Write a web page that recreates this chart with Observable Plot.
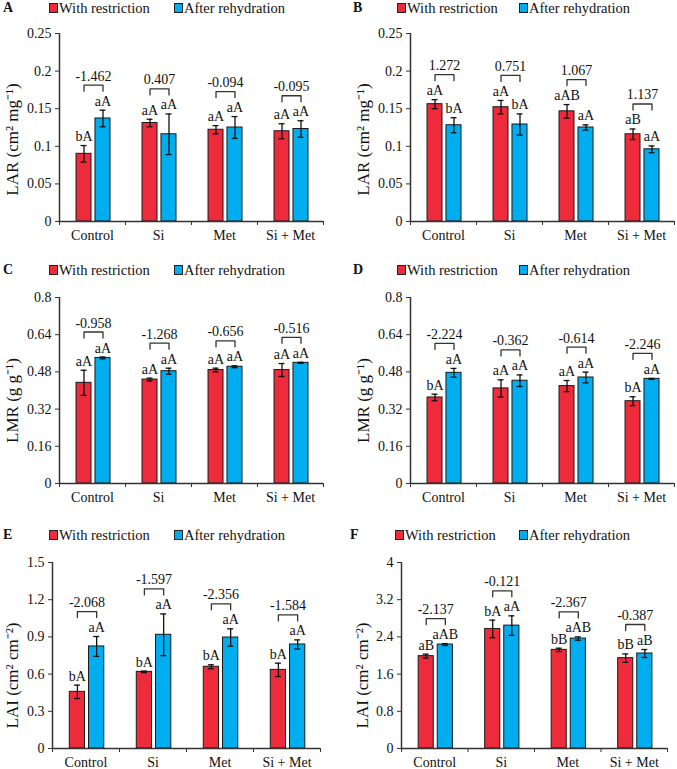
<!DOCTYPE html>
<html>
<head>
<meta charset="utf-8">
<script src="https://cdn.jsdelivr.net/npm/d3@7"></script>
<script src="https://cdn.jsdelivr.net/npm/@observablehq/plot@0.6"></script>
<style>
  html, body { margin: 0; padding: 0; background: #fff; overflow: hidden; }
  #fig { position: relative; width: 677px; height: 769px; font-family: "Liberation Serif", "Times New Roman", serif; color: #111; }
  .chart { position: absolute; }
  .tag { position: absolute; font-weight: bold; font-size: 14px; line-height: 16px; }
  .key { position: absolute; display: flex; align-items: center; font-size: 14.5px; line-height: 16px; white-space: nowrap; }
  .swatch { width: 7px; height: 8px; border: 1px solid #222; margin-right: 1px; }
</style>
</head>
<body>
<div id="fig"></div>
<script>
// Treatments and the two sampling moments
const categories = ["Control", "Si", "Met", "Si + Met"];
const seriesNames = ["With restriction", "After rehydration"];
const seriesColors = ["#EE2B3B", "#00AEEF"];

// A: LAR (cm² mg⁻¹)
const aRestr = [0.090, 0.131, 0.122, 0.120];
const aRestrErr = [0.011, 0.005, 0.0055, 0.010];
const aRehyd = [0.137, 0.116, 0.125, 0.123];
const aRehydErr = [0.011, 0.027, 0.0145, 0.011];
const aRestrLetters = ["bA", "aA", "aA", "aA"];
const aRehydLetters = ["aA", "aA", "aA", "aA"];
const aIndex = ["-1.462", "0.407", "-0.094", "-0.095"];

// B: LAR (cm² mg⁻¹)
const bRestr = [0.156, 0.152, 0.1465, 0.116];
const bRestrErr = [0.006, 0.009, 0.009, 0.007];
const bRehyd = [0.128, 0.129, 0.125, 0.096];
const bRehydErr = [0.010, 0.014, 0.0035, 0.0045];
const bRestrLetters = ["aA", "aA", "aAB", "aB"];
const bRehydLetters = ["bA", "bA", "aA", "aA"];
const bIndex = ["1.272", "0.751", "1.067", "1.137"];

// C: LMR (g g⁻¹)
const cRestr = [0.433, 0.447, 0.488, 0.488];
const cRestrErr = [0.054, 0.006, 0.008, 0.028];
const cRehyd = [0.540, 0.483, 0.502, 0.519];
const cRehydErr = [0.004, 0.013, 0.004, 0.002];
const cRestrLetters = ["aA", "aA", "aA", "aA"];
const cRehydLetters = ["aA", "aA", "aA", "aA"];
const cIndex = ["-0.958", "-1.268", "-0.656", "-0.516"];

// D: LMR (g g⁻¹)
const dRestr = [0.370, 0.409, 0.419, 0.354];
const dRestrErr = [0.014, 0.037, 0.024, 0.019];
const dRehyd = [0.476, 0.442, 0.456, 0.450];
const dRehydErr = [0.019, 0.025, 0.023, 0.002];
const dRestrLetters = ["bA", "aA", "aA", "bA"];
const dRehydLetters = ["aA", "aA", "aA", "aA"];
const dIndex = ["-2.224", "-0.362", "-0.614", "-2.246"];

// E: LAI (cm² cm⁻²)
const eRestr = [0.457, 0.618, 0.659, 0.634];
const eRestrErr = [0.054, 0.006, 0.016, 0.054];
const eRehyd = [0.823, 0.917, 0.895, 0.839];
const eRehydErr = [0.080, 0.168, 0.070, 0.037];
const eRestrLetters = ["bA", "bA", "bA", "bA"];
const eRehydLetters = ["aA", "aA", "aA", "aA"];
const eIndex = ["-2.068", "-1.597", "-2.356", "-1.584"];

// F: LAI (cm² cm⁻²)
const fRestr = [1.986, 2.571, 2.121, 1.943];
const fRestrErr = [0.043, 0.19, 0.036, 0.09];
const fRehyd = [2.236, 2.643, 2.364, 2.043];
const fRehydErr = [0.020, 0.21, 0.036, 0.086];
const fRestrLetters = ["aB", "bA", "bB", "bB"];
const fRehydLetters = ["aAB", "aA", "aAB", "aB"];
const fIndex = ["-2.137", "-0.121", "-2.367", "-0.387"];

// Y-axis ticks per measure
const larTicks = [0, 0.05, 0.1, 0.15, 0.2, 0.25];
const lmrTicks = [0, 0.16, 0.32, 0.48, 0.64, 0.8];
const laiTicksE = [0, 0.3, 0.6, 0.9, 1.2, 1.5];
const laiTicksF = [0, 0.8, 1.6, 2.4, 3.2, 4];

const panels = [
  {tag: "A", left: 0, top: 15, width: 337, height: 236, mt: 18, mb: 30, ml: 59, mr: 14,
   yMax: 0.25, ticks: larTicks, label: "LAR (cm² mg⁻¹)", titleX: 12.5, titleDy: 12,
   restr: aRestr, restrErr: aRestrErr, rehyd: aRehyd, rehydErr: aRehydErr,
   restrLetters: aRestrLetters, rehydLetters: aRehydLetters, index: aIndex,
   legendY: 0, tagX: 3, redX: 49, blueX: 174},
  {tag: "B", left: 337, top: 15, width: 340, height: 236, mt: 18, mb: 30, ml: 73, mr: 3,
   yMax: 0.25, ticks: larTicks, label: "LAR (cm² mg⁻¹)", titleX: 26, titleDy: 12,
   restr: bRestr, restrErr: bRestrErr, rehyd: bRehyd, rehydErr: bRehydErr,
   restrLetters: bRestrLetters, rehydLetters: bRehydLetters, index: bIndex,
   legendY: 0, tagX: 353, redX: 397, blueX: 519},
  {tag: "C", left: 0, top: 280, width: 337, height: 233, mt: 17, mb: 30, ml: 59, mr: 14,
   yMax: 0.8, ticks: lmrTicks, label: "LMR (g g⁻¹)", titleX: 12.5, titleDy: 10,
   restr: cRestr, restrErr: cRestrErr, rehyd: cRehyd, rehydErr: cRehydErr,
   restrLetters: cRestrLetters, rehydLetters: cRehydLetters, index: cIndex,
   legendY: 262, tagX: 3, redX: 49, blueX: 174},
  {tag: "D", left: 337, top: 280, width: 340, height: 233, mt: 17, mb: 30, ml: 73, mr: 3,
   yMax: 0.8, ticks: lmrTicks, label: "LMR (g g⁻¹)", titleX: 26, titleDy: 10,
   restr: dRestr, restrErr: dRestrErr, rehyd: dRehyd, rehydErr: dRehydErr,
   restrLetters: dRestrLetters, rehydLetters: dRehydLetters, index: dIndex,
   legendY: 262, tagX: 353, redX: 397, blueX: 519},
  {tag: "E", left: 0, top: 545, width: 337, height: 233, mt: 17, mb: 30, ml: 52, mr: 17,
   yMax: 1.5, ticks: laiTicksE, label: "LAI (cm² cm⁻²)", titleX: 12.5, titleDy: 20,
   restr: eRestr, restrErr: eRestrErr, rehyd: eRehyd, rehydErr: eRehydErr,
   restrLetters: eRestrLetters, rehydLetters: eRehydLetters, index: eIndex,
   legendY: 527, tagX: 3, redX: 49, blueX: 174},
  {tag: "F", left: 337, top: 545, width: 340, height: 233, mt: 17, mb: 30, ml: 64, mr: 10,
   yMax: 4, ticks: laiTicksF, label: "LAI (cm² cm⁻²)", titleX: 25, titleDy: 20,
   restr: fRestr, restrErr: fRestrErr, rehyd: fRehyd, rehydErr: fRehydErr,
   restrLetters: fRestrLetters, rehydLetters: fRehydLetters, index: fIndex,
   legendY: 527, tagX: 350, redX: 395, blueX: 519}
];

// Bar extents inside each category band (band width = 1 unit)
const barSpan = [[-0.242, -0.015], [0.045, 0.273]];
const capHalf = 0.045;
const axisColor = "#333";

function drawPanel(p) {
  const rows = [];
  categories.forEach((c, i) => {
    rows.push({i, s: 0, v: p.restr[i], e: p.restrErr[i], t: p.restrLetters[i]});
    rows.push({i, s: 1, v: p.rehyd[i], e: p.rehydErr[i], t: p.rehydLetters[i]});
  });
  rows.forEach(r => {
    r.x1 = r.i + barSpan[r.s][0];
    r.x2 = r.i + barSpan[r.s][1];
    r.xc = (r.x1 + r.x2) / 2;
    r.lo = r.v - r.e;
    r.hi = r.v + r.e;
  });
  const innerH = p.height - p.mt - p.mb;
  const px = n => n * p.yMax / innerH; // pixels to data units
  const caps = rows.flatMap(r => [
    {y: r.lo, x1: r.xc - capHalf, x2: r.xc + capHalf},
    {y: r.hi, x1: r.xc - capHalf, x2: r.xc + capHalf}
  ]);
  const groups = categories.map((c, i) => {
    const pair = rows.filter(r => r.i === i);
    return {i, xa: pair[0].xc, xb: pair[1].xc, y: d3.max(pair, r => r.hi) + px(25), label: p.index[i]};
  });
  const bracket = groups.flatMap(g => [
    {g: g.i, x: g.xa, y: g.y - px(6)},
    {g: g.i, x: g.xa, y: g.y},
    {g: g.i, x: g.xb, y: g.y},
    {g: g.i, x: g.xb, y: g.y - px(6)}
  ]);

  return Plot.plot({
    width: p.width,
    height: p.height,
    marginTop: p.mt,
    marginBottom: p.mb,
    marginLeft: p.ml,
    marginRight: p.mr,
    x: {domain: [-0.5, 3.5], label: null},
    y: {domain: [0, p.yMax], label: null},
    style: {fontFamily: "Liberation Serif, Times New Roman, serif", fontSize: "14px", background: "transparent", overflow: "visible", color: "#111"},
    marks: [
      Plot.rect(rows.filter(r => r.s === 0), {x1: "x1", x2: "x2", y1: 0, y2: "v", fill: seriesColors[0], stroke: "#1a1a1a", strokeWidth: 1}),
      Plot.rect(rows.filter(r => r.s === 1), {x1: "x1", x2: "x2", y1: 0, y2: "v", fill: seriesColors[1], stroke: "#1a1a1a", strokeWidth: 1}),
      Plot.ruleX(rows, {x: "xc", y1: "lo", y2: "hi", stroke: "#111", strokeWidth: 1.3}),
      Plot.ruleY(caps, {y: "y", x1: "x1", x2: "x2", stroke: "#111", strokeWidth: 1.3}),
      Plot.text(rows, {x: "xc", y: "hi", text: "t", dy: -9, fill: "#111", fontSize: 14}),
      Plot.line(bracket, {x: "x", y: "y", z: "g", stroke: "#333", strokeWidth: 1.3}),
      Plot.text(groups, {x: g => (g.xa + g.xb) / 2, y: "y", text: "label", dy: -9, fill: "#111", fontSize: 14}),
      Plot.ruleY([0], {stroke: axisColor, strokeWidth: 1.5}),
      Plot.ruleX([-0.5], {stroke: axisColor, strokeWidth: 1.5}),
      Plot.axisY({ticks: p.ticks, tickFormat: d => String(d), tickSize: 4, tickPadding: 4, label: null, stroke: axisColor, fill: "#111", fontSize: 14}),
      Plot.axisX({ticks: [-0.5, 0.5, 1.5, 2.5, 3.5], tickFormat: () => "", tickSize: 4, label: null, stroke: axisColor}),
      Plot.axisX({ticks: [0, 1, 2, 3], tickFormat: i => categories[i], tickSize: 0, tickPadding: 9, label: null, fill: "#111", fontSize: 14}),
      Plot.text([p.label], {frameAnchor: "left", textAnchor: "middle", lineAnchor: "middle", text: d => d, rotate: -90, dx: p.titleX - p.ml, dy: p.titleDy, fontSize: 17, fill: "#111"})
    ]
  });
}

const fig = document.getElementById("fig");
for (const p of panels) {
  const holder = document.createElement("div");
  holder.className = "chart";
  holder.style.left = p.left + "px";
  holder.style.top = p.top + "px";
  holder.appendChild(drawPanel(p));
  fig.appendChild(holder);

  const tag = document.createElement("div");
  tag.className = "tag";
  tag.style.left = p.tagX + "px";
  tag.style.top = p.legendY + "px";
  tag.textContent = p.tag;
  fig.appendChild(tag);

  [p.redX, p.blueX].forEach((x, s) => {
    const key = document.createElement("div");
    key.className = "key";
    key.style.left = x + "px";
    key.style.top = p.legendY + "px";
    const sw = document.createElement("span");
    sw.className = "swatch";
    sw.style.background = seriesColors[s];
    const txt = document.createElement("span");
    txt.textContent = seriesNames[s];
    key.appendChild(sw);
    key.appendChild(txt);
    fig.appendChild(key);
  });
}
</script>
</body>
</html>
